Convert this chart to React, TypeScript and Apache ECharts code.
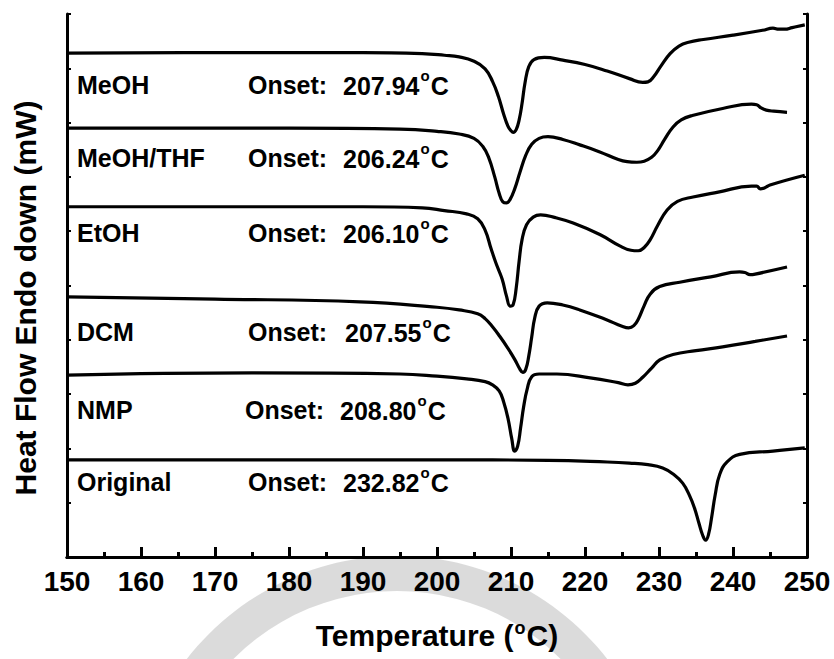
import { useEffect, useRef } from "react";
import * as echarts from "echarts";

// DSC heat-flow traces: [temperature °C, heat flow with stacking offset (arb. mW)]
const meoh: [number, number][] = [
  [150, 92.8], [170, 92.9], [190, 92.9], [198, 92.7], [201, 92.4], [203, 92.1],
  [205, 91.3], [206.5, 89.9], [207.5, 87.6], [208.3, 84.8], [209.0, 81.6],
  [209.6, 79.3], [210.0, 78.5], [210.3, 78.2], [210.7, 78.7], [211.1, 80.5],
  [211.5, 83.6], [211.9, 87.4], [212.4, 90.3], [213.1, 91.6], [214.5, 92.0],
  [217.0, 91.5], [220.0, 90.7], [223.0, 89.5], [226.0, 88.1], [227.8, 87.4],
  [228.5, 87.5], [229.3, 88.5], [230.3, 90.5], [231.5, 92.7], [232.7, 94.1],
  [234.0, 94.8], [236.0, 95.3], [240.0, 96.1], [244.0, 97.0], [245.4, 97.4],
  [246.2, 97.2], [247.0, 97.2], [248.0, 97.5], [249.7, 98.0],
];

const meohThf: [number, number][] = [
  [150, 79.0], [180, 79.0], [195, 78.8], [200, 78.4], [203, 77.9], [205, 77.1],
  [206.2, 75.6], [207.0, 73.5], [207.8, 70.0], [208.4, 67.0], [208.9, 65.4],
  [209.4, 65.2], [209.9, 65.9], [210.5, 67.8], [211.2, 70.8], [212.0, 74.0],
  [212.8, 76.0], [213.8, 77.1], [215.0, 77.4], [217.0, 76.9], [219.3, 75.9],
  [222.0, 74.6], [224.5, 73.2], [225.7, 72.8], [227.0, 72.7], [228.0, 72.9],
  [229.0, 73.6], [229.8, 74.8], [230.8, 77.0], [231.9, 79.2], [233.0, 80.5],
  [234.5, 81.3], [238.6, 82.6], [242.5, 83.4], [243.2, 83.3], [243.8, 82.7],
  [244.5, 82.3], [245.5, 82.1], [247.3, 81.9],
];

const etoh: [number, number][] = [
  [150, 64.5], [190, 64.5], [198, 64.3], [201, 63.8], [204, 63.2], [205.5, 62.3],
  [206.5, 60.2], [207.3, 56.8], [208.0, 54.0], [208.8, 51.2], [209.4, 48.0],
  [209.9, 46.2], [210.3, 46.5], [210.7, 49.5], [211.1, 54.5], [211.5, 58.5],
  [212.1, 61.2], [213.0, 62.6], [214.0, 63.0], [216.0, 62.5], [218.4, 61.5],
  [222.0, 59.4], [224.7, 57.3], [226.2, 56.5], [227.2, 56.4], [228.0, 57.0],
  [228.8, 58.4], [229.8, 61.0], [231.1, 63.9], [232.5, 65.5], [234.6, 66.3],
  [238.0, 67.2], [242.5, 68.3], [243.2, 68.3], [243.7, 67.8], [244.3, 68.0],
  [245.0, 68.5], [249.7, 70.3],
];

const dcm: [number, number][] = [
  [150, 47.9], [170, 47.5], [189.6, 47.0], [200, 46.0], [203, 45.5], [205.5, 44.8],
  [206.5, 43.9], [207.5, 42.4], [208.5, 40.6], [209.5, 38.6], [210.5, 36.4],
  [211.2, 34.6], [211.6, 34.0], [212.0, 34.6], [212.4, 37.0], [212.8, 40.5],
  [213.2, 44.0], [213.8, 46.2], [214.9, 46.8], [217.0, 46.4], [219.3, 45.5],
  [222.9, 43.7], [225.0, 42.5], [225.9, 42.2], [226.6, 42.6], [227.2, 43.8],
  [228.0, 46.3], [228.8, 48.4], [230.1, 49.8], [232.8, 50.6], [237.0, 51.6],
  [240.9, 52.5], [241.6, 52.4], [242.3, 52.0], [243.0, 52.1], [247.3, 53.4],
];

const nmp: [number, number][] = [
  [150, 33.5], [175, 33.9], [195, 33.7], [200, 33.3], [204, 32.8], [206.5, 32.3],
  [207.5, 31.7], [208.4, 30.6], [209.0, 28.6], [209.6, 25.5], [210.1, 21.8],
  [210.5, 19.5], [210.9, 20.4], [211.3, 23.8], [211.7, 27.6], [212.2, 31.0],
  [212.8, 33.2], [213.8, 33.7], [216.2, 33.7], [220.7, 33.0], [224.5, 32.1],
  [225.8, 31.7], [226.8, 32.0], [227.8, 33.1], [229.0, 34.8], [230.1, 36.3],
  [231.9, 37.3], [235.0, 38.0], [238.6, 38.7], [243.0, 39.7], [247.3, 40.7],
];

const original: [number, number][] = [
  [150, 17.9], [200, 17.9], [215, 17.8], [223, 17.5], [226, 17.3], [228.5, 17.0],
  [230.5, 16.4], [232.0, 15.2], [233.2, 13.6], [234.1, 11.4], [234.8, 9.0],
  [235.4, 6.2], [235.9, 4.0], [236.3, 3.1], [236.7, 4.2], [237.1, 7.2],
  [237.6, 11.5], [238.2, 15.2], [239.2, 17.5], [240.9, 18.9], [245.4, 19.5],
  [249.7, 20.1],
];

const traces = [meoh, meohThf, etoh, dcm, nmp, original];
const sampleNames = ["MeOH", "MeOH/THF", "EtOH", "DCM", "NMP", "Original"];
const onsetValues = ["207.94", "206.24", "206.10", "207.55", "208.80", "232.82"];

// annotation layout (pixels)
const rowCenters = [85, 158, 233, 332, 410, 482];
const nameX = 77;
const onsetX = [248, 248, 248, 248, 245, 248];
const valueX = [343, 343, 343, 345, 340, 343];

const FONT = "'Liberation Sans', Arial, sans-serif";

export default function App() {
  const ref = useRef<HTMLDivElement>(null);

  useEffect(() => {
    if (!ref.current) return;
    const chart = echarts.init(ref.current, undefined, { renderer: "svg" });

    const axisLine = { show: true, lineStyle: { color: "#000", width: 3 } };

    const graphics: any[] = [
      // faint seal watermark behind the x-axis labels
      {
        type: "ring",
        silent: true,
        z: -10,
        shape: { cx: 397, cy: 822, r: 266, r0: 231 },
        style: { fill: "#bdbdbd", opacity: 0.55 },
      },
      {
        type: "text",
        x: 25,
        y: 298,
        rotation: Math.PI / 2,
        style: {
          text: "Heat Flow Endo down (mW)",
          font: `bold 30px ${FONT}`,
          fill: "#000",
          align: "center",
          verticalAlign: "middle",
        },
      },
    ];
    sampleNames.forEach((name, i) => {
      graphics.push({
        type: "text",
        x: nameX,
        y: rowCenters[i],
        style: { text: name, font: `bold 25px ${FONT}`, fill: "#000", verticalAlign: "middle" },
      });
      graphics.push({
        type: "text",
        x: onsetX[i],
        y: rowCenters[i],
        style: { text: "Onset:", font: `bold 25px ${FONT}`, fill: "#000", verticalAlign: "middle" },
      });
      graphics.push({
        type: "text",
        x: valueX[i],
        y: rowCenters[i] - 2,
        style: {
          text: `{v|${onsetValues[i]}}{s|o}{v|C}`,
          verticalAlign: "middle",
          rich: {
            v: { font: `bold 25px ${FONT}`, fill: "#000", verticalAlign: "bottom", lineHeight: 30 },
            s: { font: `bold 15px ${FONT}`, fill: "#000", verticalAlign: "top", lineHeight: 30, padding: [0, 1, 12, 1] },
          },
        },
      });
    });

    chart.setOption({
      animation: false,
      backgroundColor: "#fff",
      grid: { left: 67, right: 27, top: 14, bottom: 102 },
      xAxis: [
        {
          type: "value",
          min: 150,
          max: 250,
          interval: 10,
          position: "bottom",
          axisLine,
          axisTick: { show: true, inside: true, length: 10, lineStyle: { color: "#000", width: 3 } },
          minorTick: { show: true, splitNumber: 2, length: 5, lineStyle: { color: "#000", width: 3 } },
          splitLine: { show: false },
          axisLabel: { fontSize: 28, fontWeight: "bold", color: "#000", fontFamily: FONT, margin: 10 },
          name: "Temperature ({s|o}C)",
          nameLocation: "middle",
          nameGap: 62,
          nameTextStyle: {
            fontSize: 30,
            fontWeight: "bold",
            color: "#000",
            fontFamily: FONT,
            rich: {
              s: { fontSize: 18, fontWeight: "bold", color: "#000", fontFamily: FONT, verticalAlign: "top", padding: [0, 1, 14, 1] },
            },
          },
        },
        {
          type: "value",
          min: 150,
          max: 250,
          interval: 10,
          position: "top",
          axisLine,
          axisTick: { show: true, inside: true, length: 2, lineStyle: { color: "#000", width: 1 } },
          splitLine: { show: false },
          axisLabel: { show: false },
        },
      ],
      yAxis: [
        {
          type: "value",
          min: 0,
          max: 100,
          interval: 10,
          position: "left",
          axisLine,
          axisTick: { show: true, inside: true, length: 4, lineStyle: { color: "#000", width: 2 } },
          splitLine: { show: false },
          axisLabel: { show: false },
        },
        {
          type: "value",
          min: 0,
          max: 100,
          interval: 10,
          position: "right",
          axisLine,
          axisTick: { show: true, inside: true, length: 4, lineStyle: { color: "#000", width: 2 } },
          splitLine: { show: false },
          axisLabel: { show: false },
        },
      ],
      series: traces.map((data, i) => ({
        name: sampleNames[i],
        type: "line",
        data,
        showSymbol: false,
        smooth: 0.45,
        lineStyle: { color: "#000", width: 3.2 },
        z: 3,
      })),
      graphic: graphics,
    });

    return () => chart.dispose();
  }, []);

  return (
    <div
      ref={ref}
      style={{ position: "absolute", left: 0, top: 0, width: 834, height: 659 }}
    />
  );
}
